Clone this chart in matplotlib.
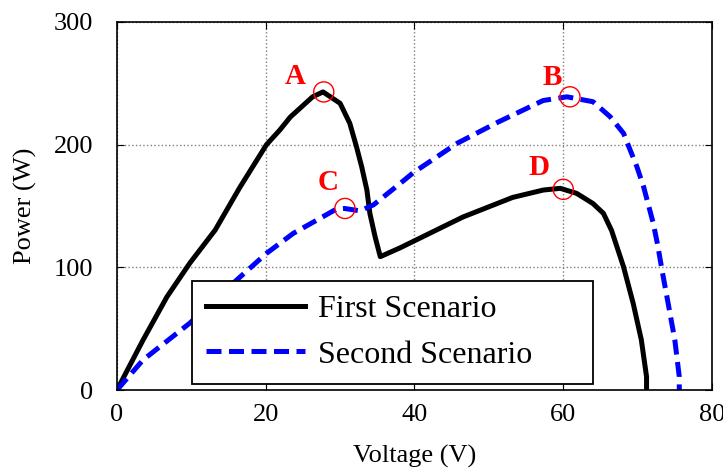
import numpy as np
import matplotlib.pyplot as plt

# P-V curves of the PV array under two shading scenarios
v_first = [0, 3.5, 6.7, 9.8, 13.2, 16.5, 20.1, 21.9, 23.3, 26.3, 27.7, 30.0, 31.3,
           32.2, 32.9, 33.6, 34.0, 34.7, 35.4, 38.1, 46.5, 53.2, 57.3, 59.6, 61.8,
           64.0, 65.4, 66.5, 68.1, 69.4, 70.5, 71.2, 71.2]
p_first = [0, 40.7, 75.8, 103.5, 130.4, 165, 200, 212, 222.5, 239, 243, 233.7, 217.4,
           198.3, 182, 163, 144, 125, 108.7, 116, 141, 157, 163, 164.4, 160.3,
           152, 144, 130, 100.5, 70.7, 40.8, 10.8, 0]

v_second = [0, 3.5, 9.8, 16.1, 20.1, 23.7, 26.9, 29.5, 30.6, 32.7, 34.5, 38.1, 39.8,
            45.7, 51.1, 57.3, 60.5, 64.0, 66.3, 68.1, 69.0, 69.9, 70.8, 71.4, 72.1,
            72.7, 73.3, 74.1, 75.0, 75.6, 75.6]
p_second = [0, 24.5, 54.6, 89.7, 111.4, 127.7, 138.6, 147.5, 148, 146, 151, 168.5, 177,
            201, 218, 236, 239, 235, 222.8, 209.3, 195.6, 182, 165.7, 152, 136,
            118, 97, 70.7, 40.8, 10.8, 0]

# maximum power points
mpp_labels = ['A', 'B', 'C', 'D']
mpp_v = [27.8, 60.9, 30.65, 60.0]
mpp_p = [243, 239, 148, 163.6]
label_offsets = [(-29, 15), (-18, 19), (-17, 26), (-24, 22)]

plt.rcParams['font.family'] = ['Liberation Serif', 'DejaVu Serif']

fig = plt.figure(figsize=(7.23, 4.75), dpi=100)
ax = fig.add_axes([0.1618, 0.1789, 0.8230, 0.7748])

ax.plot(v_first, p_first, color='black', lw=3.6, label='First Scenario',
        solid_joinstyle='round')
ax.plot(v_second, p_second, color='#0000ff', lw=3.6, dashes=(3, 1.5),
        label='Second Scenario')

ax.scatter(mpp_v, mpp_p, s=210, facecolors='none', edgecolors='red',
           linewidths=1.0, zorder=5)
for lab, v, p, off in zip(mpp_labels, mpp_v, mpp_p, label_offsets):
    ax.annotate(lab, (v, p), xytext=off, textcoords='offset pixels',
                ha='center', va='center', color='red', fontweight='bold',
                fontsize=21)

ax.set_xlim(0, 80)
ax.set_ylim(0, 300)
ax.set_xticks([0, 20, 40, 60, 80])
ax.set_yticks([0, 100, 200, 300])
ax.grid(True, color='gray', linestyle=':', linewidth=1.0)
ax.tick_params(direction='in', length=5, labelsize=19,
               top=True, right=True, color='black')
ax.tick_params(axis='x', pad=10)
ax.tick_params(axis='y', pad=17)
for s in ax.spines.values():
    s.set_linewidth(1.2)

ax.set_xlabel('Voltage (V)', fontsize=19, labelpad=14)
ax.set_ylabel('Power (W)', fontsize=19, labelpad=12)

leg = ax.legend(loc='lower left', bbox_to_anchor=(0.126, 0.0163, 0.674, 0.28),
                mode='expand', borderaxespad=0, fontsize=23, frameon=True,
                fancybox=False, edgecolor='black', framealpha=1,
                handlelength=3.1, handletextpad=0.4, labelspacing=0.5,
                borderpad=0.45)
leg.get_frame().set_linewidth(1.3)

fig.savefig('out.png', dpi=100)
